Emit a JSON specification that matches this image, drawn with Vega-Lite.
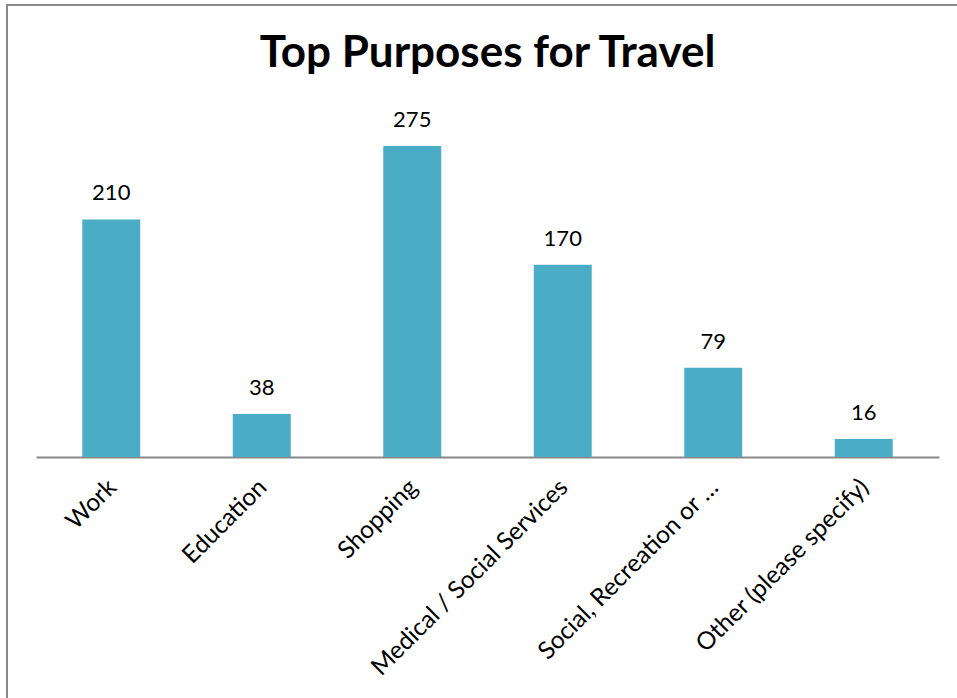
{
  "$schema": "https://vega.github.io/schema/vega-lite/v6.json",
  "autosize": "none",
  "width": 953,
  "height": 696,
  "padding": {"left": 7, "top": 5, "right": -3, "bottom": -3},
  "background": "white",
  "config": {
    "view": {"stroke": "#888888", "strokeWidth": 2},
    "font": "Lato"
  },
  "title": {
    "text": "Top Purposes for Travel",
    "fontSize": 44,
    "fontWeight": "bold",
    "font": "Lato",
    "color": "black",
    "anchor": "middle",
    "frame": "group",
    "offset": -106,
    "baseline": "alphabetic",
    "dx": 4
  },
  "data": {
    "values": [
      {"purpose": "Work", "count": 210},
      {"purpose": "Education", "count": 38},
      {"purpose": "Shopping", "count": 275},
      {"purpose": "Medical / Social Services", "count": 170},
      {"purpose": "Social, Recreation or …", "count": 79},
      {"purpose": "Other (please specify)", "count": 16}
    ]
  },
  "encoding": {
    "x": {
      "field": "purpose",
      "type": "nominal",
      "sort": null,
      "scale": {"paddingInner": 0.615, "paddingOuter": 0.3075, "range": [29, 932]},
      "axis": {
        "orient": "bottom",
        "offset": -244,
        "title": null,
        "ticks": false,
        "domainColor": "#888888",
        "domainWidth": 2,
        "labelFontSize": 24.5,
        "labelFont": "Lato",
        "labelAngle": -45,
        "labelColor": "black",
        "labelPadding": 18,
        "labelOffset": -7,
        "labelLimit": 0
      }
    },
    "y": {
      "field": "count",
      "type": "quantitative",
      "scale": {"domain": [-215.7, 399.6], "nice": false, "zero": false},
      "axis": null
    }
  },
  "layer": [
    {"mark": {"type": "bar", "color": "#4BACC6"}},
    {
      "mark": {"type": "text", "fontSize": 22, "font": "Lato", "color": "black", "baseline": "alphabetic", "dy": -19},
      "encoding": {"text": {"field": "count", "type": "quantitative"}}
    }
  ]
}
